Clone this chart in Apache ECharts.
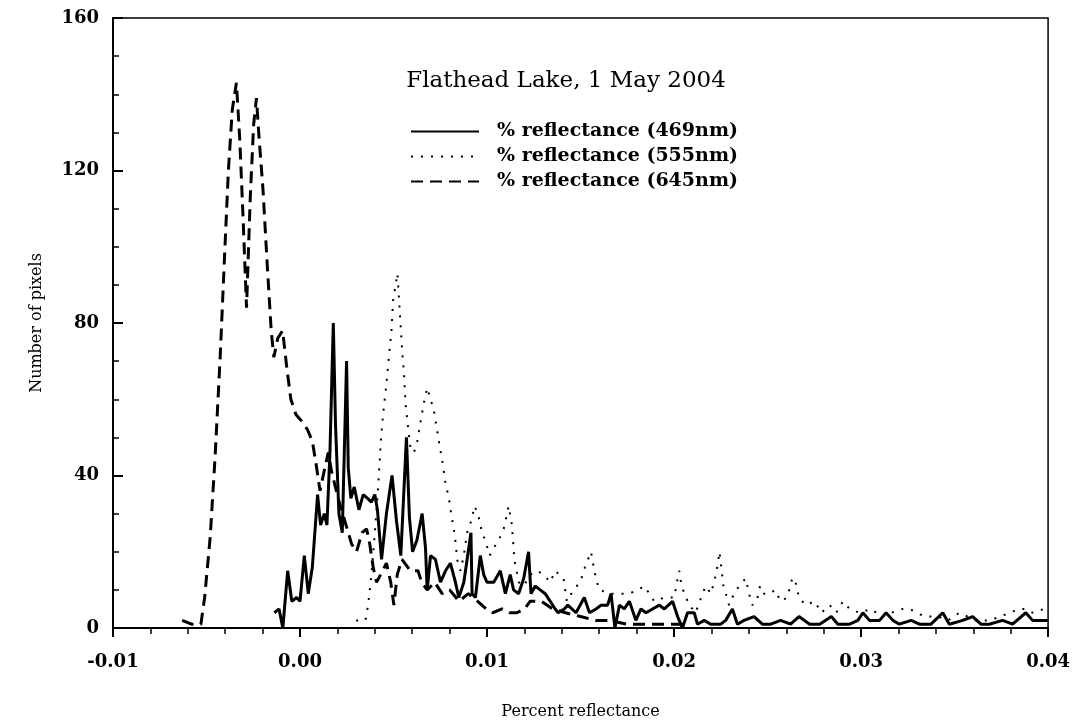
<!DOCTYPE html>
<html>
<head>
<meta charset="utf-8">
<script src="https://cdn.jsdelivr.net/npm/echarts@6/dist/echarts.min.js"></script>
<style>
  html, body { margin: 0; padding: 0; background: #fff; }
  #chart { width: 1073px; height: 727px; }
</style>
</head>
<body>
<div id="chart"></div>
<script>
// % reflectance (469nm) - solid
var x469 = [-0.00137, -0.00112, -0.00092, -0.00066, -0.00044, -0.00018, 0.0, 0.00023, 0.00044, 0.00066,
  0.00094, 0.0011, 0.0013, 0.00144, 0.0016, 0.00178, 0.0019, 0.00208, 0.00226, 0.00249,
  0.00258, 0.00272, 0.0029, 0.00315, 0.00338, 0.00361, 0.00382, 0.004, 0.00414, 0.00436,
  0.00462, 0.00492, 0.00516, 0.00539, 0.00569, 0.00585, 0.00602, 0.00625, 0.00653, 0.00671,
  0.0068, 0.00698, 0.00724, 0.00751, 0.00778, 0.00804, 0.00831, 0.00849, 0.00876, 0.00914,
  0.0092, 0.00938, 0.00964, 0.00982, 0.01, 0.01036, 0.01071, 0.01098, 0.01124, 0.01142,
  0.01169, 0.01196, 0.01222, 0.01235, 0.01258, 0.01284, 0.01311, 0.01338, 0.01364, 0.0138,
  0.01413, 0.01432, 0.01476, 0.0152, 0.01548, 0.01583, 0.0161, 0.01645, 0.01663, 0.01684,
  0.01708, 0.01734, 0.01761, 0.01796, 0.01823, 0.0185, 0.01885, 0.01921, 0.01948, 0.01992,
  0.02019, 0.02045, 0.02072, 0.02108, 0.02125, 0.02161, 0.02196, 0.0225, 0.02276, 0.02312,
  0.02339, 0.02374, 0.02428, 0.02472, 0.02517, 0.0257, 0.02623, 0.02668, 0.02725, 0.02779,
  0.02841, 0.02876, 0.02939, 0.02983, 0.0301, 0.03045, 0.03099, 0.03134, 0.0317, 0.03205,
  0.03268, 0.03312, 0.03374, 0.03437, 0.03472, 0.03543, 0.03597, 0.03641, 0.03685, 0.03757,
  0.0381, 0.03881, 0.03917, 0.03979, 0.04];
var y469 = [4, 5, 0, 15, 7, 8, 7, 19, 9, 16,
  35, 27, 30, 27, 46, 80, 53, 30, 25, 70,
  42, 34, 37, 31, 35, 34, 33, 35, 31, 18,
  30, 40, 28, 19, 50, 29, 20, 23, 30, 21,
  10, 19, 18, 12, 15, 17, 12, 8, 12, 25,
  9, 8, 19, 14, 12, 12, 15, 9, 14, 10,
  9, 13, 20, 9, 11, 10, 9, 7, 5, 4,
  5, 6, 4, 8, 4, 5, 6, 6, 9, 0,
  6, 5, 7, 2, 5, 4, 5, 6, 5, 7,
  3, 0, 4, 4, 1, 2, 1, 1, 2, 5,
  1, 2, 3, 1, 1, 2, 1, 3, 1, 1,
  3, 1, 1, 2, 4, 2, 2, 4, 2, 1,
  2, 1, 1, 4, 1, 2, 3, 1, 1, 2,
  1, 4, 2, 2, 2];

// % reflectance (555nm) - dotted
var x555 = [0.003, 0.0035, 0.00364, 0.00382, 0.004, 0.00418, 0.00432, 0.00444, 0.00462, 0.00475,
  0.00489, 0.00498, 0.00521, 0.00547, 0.00556, 0.00564, 0.00579, 0.00591, 0.00609, 0.00627,
  0.00644, 0.00662, 0.0068, 0.00698, 0.00716, 0.00739, 0.0076, 0.00778, 0.00796, 0.00808,
  0.00822, 0.00833, 0.0084, 0.00858, 0.00876, 0.00893, 0.00915, 0.00934, 0.00956, 0.00973,
  0.00991, 0.01014, 0.01036, 0.01062, 0.01089, 0.01116, 0.01133, 0.01146, 0.01170, 0.01196,
  0.01231, 0.01267, 0.01302, 0.01338, 0.01364, 0.01409, 0.01427, 0.01462, 0.01498, 0.01524,
  0.01548, 0.01556, 0.01574, 0.01588, 0.016, 0.01663, 0.01725, 0.01761, 0.01805, 0.01841,
  0.01868, 0.01894, 0.01948, 0.02001, 0.02019, 0.02028, 0.0204, 0.02081, 0.02115, 0.02152,
  0.0217, 0.02197, 0.02214, 0.02228, 0.02243, 0.02255, 0.02264, 0.02277, 0.02294, 0.02321,
  0.02348, 0.02383, 0.02401, 0.02419, 0.02442, 0.0246, 0.02481, 0.02517, 0.02538, 0.0257,
  0.02605, 0.02632, 0.02645, 0.02668, 0.02703, 0.02752, 0.02788, 0.02832, 0.02868, 0.02903,
  0.02939, 0.02992, 0.03054, 0.03108, 0.03161, 0.03223, 0.03259, 0.03339, 0.0341, 0.03465,
  0.03525, 0.03614, 0.03694, 0.03739, 0.03801, 0.03837, 0.03881, 0.03917, 0.03979, 0.04];
var y555 = [2, 2, 6, 14, 25, 37, 49, 56, 64, 71,
  78, 86, 93, 72, 67, 59, 52, 47, 46, 49,
  54, 59, 63, 60, 57, 50, 44, 38, 34, 30,
  26, 22, 18, 15, 19, 25, 28, 32, 29, 25,
  23, 19, 21, 23, 26, 32, 27, 18, 12, 11,
  14, 15, 14, 12, 15, 13, 7, 10, 12, 16,
  19, 20, 15, 12, 10, 9, 9, 9, 10, 11,
  9, 7, 8, 8, 13, 15, 11, 6, 4, 9,
  11, 9, 12, 15, 20, 15, 11, 9, 6, 9,
  11, 13, 9, 6, 7, 11, 9, 9, 10, 7,
  8, 13, 13, 8, 6, 7, 4, 6, 4, 7,
  5, 4, 5, 3, 4, 5, 5, 3, 3, 2,
  4, 2, 2, 3, 4, 5, 5, 4, 5, 5];

// % reflectance (645nm) - dashed
var x645 = [-0.0063, -0.0058, -0.0053, -0.0051, -0.0048, -0.00454, -0.00427, -0.00404, -0.00383, -0.00362,
  -0.0034, -0.00322, -0.00304, -0.00286, -0.00266, -0.00248, -0.00233, -0.00221, -0.00198, -0.00175,
  -0.00154, -0.0014, -0.00119, -0.00093, -0.0007, -0.00049, -0.00022, 0.00013, 0.0004, 0.00066,
  0.00089, 0.00107, 0.00124, 0.00151, 0.00169, 0.00204, 0.0024, 0.00276, 0.00302, 0.00332,
  0.00356, 0.00373, 0.00391, 0.00409, 0.00431, 0.00462, 0.00485, 0.00502, 0.0052, 0.00545,
  0.0059, 0.00631, 0.0065, 0.0068, 0.0072, 0.0076, 0.008, 0.0085, 0.009, 0.0095,
  0.00996, 0.0103, 0.0108, 0.0112, 0.0116, 0.012, 0.0123, 0.0129, 0.0135, 0.0142,
  0.015, 0.0158, 0.0165, 0.0175, 0.0185, 0.0195, 0.0205];
var y645 = [2, 1, 1, 8, 24, 45, 71, 97, 120, 136,
  143, 128, 107, 84, 113, 132, 139, 130, 115, 95,
  78, 71, 76, 78, 68, 60, 56, 54, 52, 49,
  42, 36, 40, 46, 41, 34, 28, 22, 20, 25,
  26, 22, 16, 12, 14, 17, 12, 6, 14, 18,
  15, 15, 12, 10, 12, 9, 10, 7, 9, 7,
  5, 4, 5, 4, 4, 5, 7, 7, 5, 4,
  3, 2, 2, 1, 1, 1, 1];

var xTicks = ['-0.01', '0.00', '0.01', '0.02', '0.03', '0.04'];

function pairs(xs, ys) {
  var out = [];
  for (var i = 0; i < xs.length; i++) out.push([xs[i], ys[i]]);
  return out;
}

var serif = 'DejaVu Serif';
var chart = echarts.init(document.getElementById('chart'));
var option = {
  animation: false,
  backgroundColor: '#fff',
  title: {
    text: 'Flathead Lake, 1 May 2004',
    left: 561,
    textAlign: 'center',
    top: 65,
    textStyle: { fontFamily: serif, fontSize: 23, fontWeight: 'normal', color: '#000' }
  },
  legend: {
    orient: 'vertical',
    left: 410,
    top: 122,
    padding: 0,
    itemWidth: 68,
    itemHeight: 14,
    itemGap: 6,
    itemStyle: { opacity: 0 },
    textStyle: { fontFamily: serif, fontSize: 19, fontWeight: 'bold', color: '#000', padding: [0, 0, 0, 13] },
    data: ['% reflectance (469nm)', '% reflectance (555nm)', '% reflectance (645nm)']
  },
  grid: {
    left: 113, right: 23, top: 18, bottom: 99,
    show: true, borderColor: '#000', borderWidth: 1.5
  },
  xAxis: {
    type: 'value',
    min: -0.01, max: 0.04, interval: 0.01,
    name: 'Percent reflectance',
    nameLocation: 'middle',
    nameGap: 76,
    nameTextStyle: { fontFamily: serif, fontSize: 16, fontWeight: 'normal', color: '#000' },
    axisLine: { onZero: false, lineStyle: { color: '#000', width: 2 } },
    axisTick: { inside: false, length: 9, lineStyle: { color: '#000', width: 2 } },
    minorTick: { show: true, splitNumber: 5, length: 6, lineStyle: { color: '#000', width: 1.5 } },
    splitLine: { show: false },
    axisLabel: {
      margin: 25,
      fontFamily: serif, fontSize: 18, fontWeight: 'bold', color: '#000',
      formatter: function (v) { return xTicks[Math.round((v + 0.01) / 0.01)]; }
    }
  },
  yAxis: {
    type: 'value',
    min: 0, max: 160, interval: 40,
    name: 'Number of pixels',
    nameLocation: 'middle',
    nameGap: 68,
    nameRotate: 90,
    nameTextStyle: { fontFamily: serif, fontSize: 16, fontWeight: 'normal', color: '#000' },
    axisLine: { onZero: false, lineStyle: { color: '#000', width: 2 } },
    axisTick: { inside: true, length: 10, lineStyle: { color: '#000', width: 2 } },
    minorTick: { show: true, splitNumber: 4, length: 6, lineStyle: { color: '#000', width: 1.5 } },
    splitLine: { show: false },
    axisLabel: { margin: 14, fontFamily: serif, fontSize: 18, fontWeight: 'bold', color: '#000' }
  },
  series: [
    {
      name: '% reflectance (469nm)',
      type: 'line',
      symbol: 'none',
      data: pairs(x469, y469),
      lineStyle: { color: '#000', width: 3, type: 'solid' },
      itemStyle: { color: '#000' },
      z: 3
    },
    {
      name: '% reflectance (555nm)',
      type: 'line',
      symbol: 'none',
      data: pairs(x555, y555),
      lineStyle: { color: '#000', width: 2, type: [2, 8] },
      itemStyle: { color: '#000' },
      z: 2
    },
    {
      name: '% reflectance (645nm)',
      type: 'line',
      symbol: 'none',
      data: pairs(x645, y645),
      lineStyle: { color: '#000', width: 3, type: [12, 7] },
      itemStyle: { color: '#000' },
      z: 2
    }
  ]
};
chart.setOption(option);
</script>
</body>
</html>
